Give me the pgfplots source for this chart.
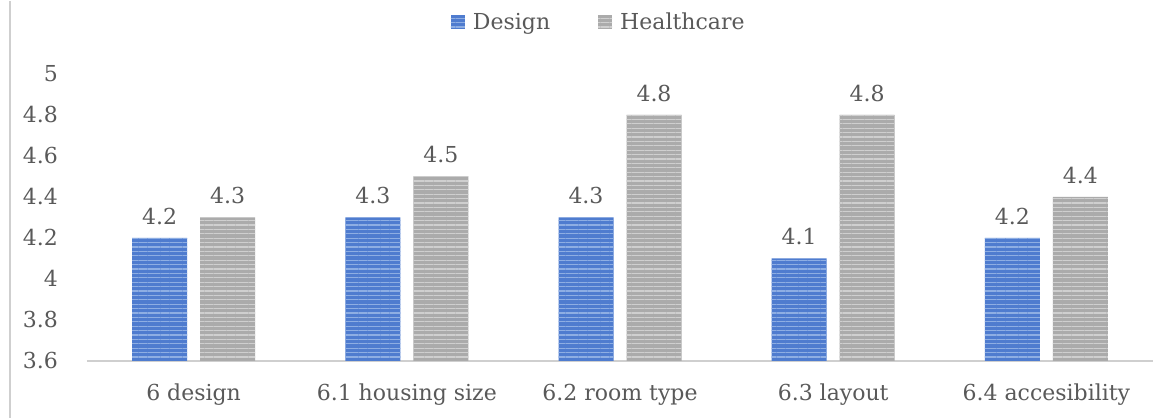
\documentclass[border=0pt]{standalone}
\usepackage{pgfplots}
\pgfplotsset{compat=1.18}
\usepackage{fontspec}
\setmainfont{DejaVu Serif}
\usetikzlibrary{patterns.meta}
\definecolor{txt}{HTML}{595959}
\definecolor{bblue}{HTML}{4F7CCF}
\definecolor{bbluel}{HTML}{8EAEE3}
\definecolor{bgray}{HTML}{ABABAB}
\definecolor{bgrayl}{HTML}{CFCFCF}
\definecolor{axl}{HTML}{CFCFCF}
\begin{document}
\begin{tikzpicture}
\begin{axis}[
  at={(0pt,0pt)}, anchor=south west,
  scale only axis,
  width=533pt, height=143.5pt,
  ybar, bar width=27.5pt,
  ymin=3.6, ymax=5,
  xmin=-0.5, xmax=4.5,
  ytick={3.6,3.8,4,4.2,4.4,4.6,4.8,5},
  yticklabels={3.6,3.8,4,4.2,4.4,4.6,4.8,5},
  xtick={0,1,2,3,4},
  xticklabels={6 design,6.1 housing size,6.2 room type,6.3 layout,6.4 accesibility},
  major tick length=0pt,
  axis x line*=bottom,
  axis y line*=left,
  y axis line style={draw=none},
  x axis line style={axl, line width=0.9pt},
  tick label style={font=\fontsize{11}{13}\selectfont, text=txt},
  yticklabel style={anchor=east, xshift=-11pt},
  xticklabel style={yshift=-8pt},
  /pgf/number format/assume math mode=true,
  legend style={at={(0.481,1.178)}, anchor=center, draw=none, fill=none,
    legend columns=-1, font=\fontsize{11}{13}\selectfont, text=txt,
    /tikz/every odd column/.append style={column sep=2pt},
    /tikz/every even column/.append style={column sep=22pt}},
  legend image code/.code={\fill[#1] (0pt,-3pt) rectangle (7pt,4pt);},
  nodes near coords,
  every node near coord/.append style={font=\fontsize{11}{13}\selectfont, text=txt, yshift=3pt},
  nodes near coords={\pgfmathprintnumber[fixed,precision=1]{\pgfplotspointmeta}},
]
\addplot[bar shift=-17pt, draw=none, fill=bblue,
  postaction={pattern={Lines[angle=0,distance=2.2pt,line width=0.6pt]}, pattern color=bbluel}]
  coordinates {(0,4.2) (1,4.3) (2,4.3) (3,4.1) (4,4.2)};
\addlegendentry{Design}
\addplot[bar shift=17pt, draw=none, fill=bgray,
  postaction={pattern={Lines[angle=0,distance=2.2pt,line width=0.6pt]}, pattern color=bgrayl}]
  coordinates {(0,4.3) (1,4.5) (2,4.8) (3,4.8) (4,4.4)};
\addlegendentry{Healthcare}
\end{axis}
\pgfresetboundingbox
\path (-43.5pt,-28.5pt) rectangle (540pt,180pt);
\draw[axl, line width=0.8pt] (-38.5pt,-28.5pt) -- (-38.5pt,180pt);
\end{tikzpicture}
\end{document}
